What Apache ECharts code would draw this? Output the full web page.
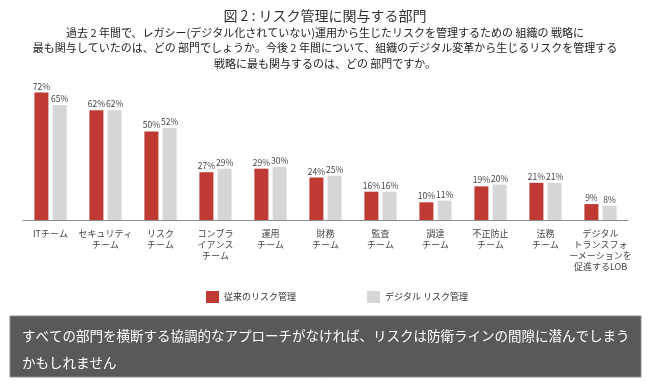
<!DOCTYPE html>
<html><head><meta charset="utf-8">
<script src="https://cdn.jsdelivr.net/npm/echarts@6/dist/echarts.min.js"></script>
<style>html,body{margin:0;padding:0;background:#fff}#c{width:650px;height:389px}</style>
</head><body><div id="c"></div>
<script>
const categories = ['ITチーム','セキュリティ\nチーム','リスク\nチーム','コンプラ\nイアンス\nチーム','運用\nチーム','財務\nチーム','監査\nチーム','調達\nチーム','不正防止\nチーム','法務\nチーム','デジタル\nトランスフォ\nーメーションを\n促進するLOB'];
const traditional = [72,62,50,27,29,24,16,10,19,21,9];
const digital = [65,62,52,29,30,25,16,11,20,21,8];
const seriesNames = ['従来のリスク管理','デジタル リスク管理'];
const titleText = '図 2 : リスク管理に関与する部門';
const subText = '過去 2 年間で、レガシー(デジタル化されていない)運用から生じたリスクを管理するための 組織の 戦略に\n最も関与していたのは、どの 部門でしょうか。今後 2 年間について、組織のデジタル変革から生じるリスクを管理する\n戦略に最も関与するのは、どの 部門ですか。';
const noteText = 'すべての部門を横断する協調的なアプローチがなければ、リスクは防衛ラインの間隙に潜んでしまう\nかもしれません';
const font = '"Noto Sans CJK JP", "Noto Sans", sans-serif';

const chart = echarts.init(document.getElementById('c'));
chart.setOption({
  animation:false,
  textStyle:{fontFamily:font},
  title:[
    {text:titleText, left:'center', top:4, textStyle:{fontSize:14, fontWeight:'normal', color:'#333', fontFamily:font}}
  ],
  legend:{left:201, top:286, itemWidth:13, itemHeight:12, itemGap:71, icon:'rect',
    textStyle:{fontSize:9, color:'#333', fontFamily:font}, data:seriesNames},
  grid:{left:23, right:22, top:43, bottom:169},
  xAxis:{type:'category', data:categories,
    axisLine:{lineStyle:{color:'#8c8c8c'}}, axisTick:{show:false},
    axisLabel:{fontSize:9, color:'#444', lineHeight:11, interval:0, margin:8, fontFamily:font}},
  yAxis:{type:'value', min:0, max:100, show:false},
  series:[
    {name:seriesNames[0], type:'bar', data:traditional, barWidth:14, barGap:'30%', itemStyle:{color:'#bf3a35'},
     label:{show:true, position:'top', distance:2, formatter:'{c}%', fontSize:8.5, color:'#444'}},
    {name:seriesNames[1], type:'bar', data:digital, barWidth:14, itemStyle:{color:'#d4d6d7'},
     label:{show:true, position:'top', distance:2, formatter:'{c}%', fontSize:8.5, color:'#444'}}
  ],
  graphic:[
    {type:'text', x:325, y:25, style:{text:subText, fill:'#222', fontSize:11, lineHeight:15.5, align:'center', verticalAlign:'top', fontFamily:font}},
    {type:'rect', shape:{x:10, y:316, width:631, height:61}, style:{fill:'#595959', stroke:'#8a8a8a', lineWidth:1}},
    {type:'text', left:22, top:322, style:{text:noteText, fill:'#fff', fontSize:13.5, lineHeight:27, fontFamily:font}}
  ]
});
</script></body></html>
